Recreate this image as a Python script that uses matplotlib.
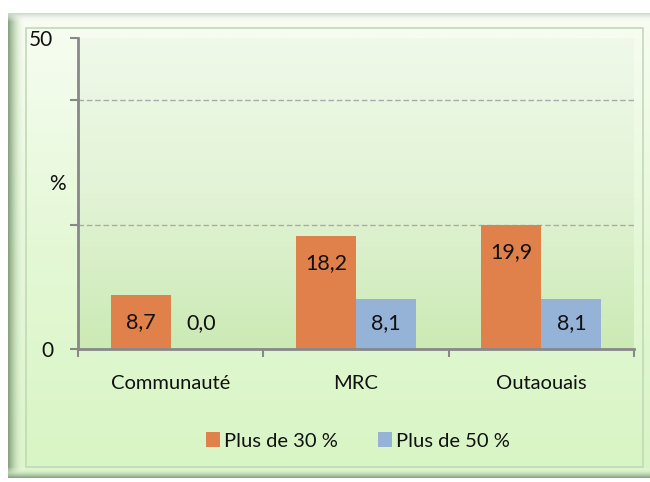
import numpy as np
import matplotlib
matplotlib.use("Agg")
import matplotlib.pyplot as plt
from matplotlib.colors import LinearSegmentedColormap
from matplotlib.patches import Rectangle

categories = ["Communauté", "MRC", "Outaouais"]
series_names = ["Plus de 30 %", "Plus de 50 %"]
plus30 = [8.7, 18.2, 19.9]
plus50 = [0.0, 8.1, 8.1]
value_labels30 = ["8,7", "18,2", "19,9"]
value_labels50 = ["0,0", "8,1", "8,1"]

ORANGE = "#E0804A"
BLUE = "#95B3D7"
FONT = ["Lato", "DejaVu Sans"]
plt.rcParams['font.family'] = FONT

W, H = 650, 482
fig = plt.figure(figsize=(W / 100, H / 100), dpi=100)
fig.patch.set_facecolor("white")

# ---- background panel ----
bg = fig.add_axes([0, 0, 1, 1], zorder=-10)
bg.set_xlim(0, W)
bg.set_ylim(H, 0)
bg.axis("off")

panel_cmap = LinearSegmentedColormap.from_list("panel", ["#F8FDF3", "#E4F8D6", "#D8F5C4"])
grad = np.linspace(0, 1, 256).reshape(-1, 1)
bg.imshow(grad, cmap=panel_cmap, extent=[8, W, 478, 13], aspect="auto", zorder=1)

# left bevel
bev_cmap = LinearSegmentedColormap.from_list("bev", [(0.52, 0.62, 0.49, 1.0), (0.80, 0.89, 0.75, 0.7), (1, 1, 1, 0.0)])
hgrad = np.linspace(0, 1, 64).reshape(1, -1)
bg.imshow(hgrad, cmap=bev_cmap, extent=[8, 26, 478, 13], aspect="auto", zorder=2)
# bottom bevel
vgrad = np.linspace(1, 0, 64).reshape(-1, 1)
bg.imshow(vgrad, cmap=bev_cmap, extent=[8, W, 478, 467], aspect="auto", zorder=2)
# top edge shading
bg.imshow(np.linspace(0, 1, 16).reshape(-1, 1),
          cmap=LinearSegmentedColormap.from_list("top", [(0.8, 0.85, 0.8, 1.0), (1, 1, 1, 0.0)]),
          extent=[8, W, 22, 13], aspect="auto", zorder=2)
bg.add_patch(Rectangle((26, 28), 617, 439, fill=False, edgecolor="#C3D9B8", lw=1.2, zorder=3))

# ---- main axes ----
x0, x1, ytop, ybot = 78, 634, 38, 349
ax = fig.add_axes([x0 / W, 1 - ybot / H, (x1 - x0) / W, (ybot - ytop) / H])
ax.set_facecolor("none")
plot_cmap = LinearSegmentedColormap.from_list("plot", ["#F0F9EA", "#E2F3D6", "#CBEAB4"])
ax.imshow(grad, cmap=plot_cmap, extent=[0, 1, 0, 1], transform=ax.transAxes,
          aspect="auto", zorder=0)

x = np.arange(len(categories))
bw = 0.324
b1 = ax.bar(x - bw / 2, plus30, bw, color=ORANGE, label=series_names[0], zorder=3)
b2 = ax.bar(x + bw / 2, plus50, bw, color=BLUE, label=series_names[1], zorder=3)

for xi, v, s in zip(x - bw / 2, plus30, value_labels30):
    ax.text(xi, max(v - 4.4, 4.1), s, ha="center", va="center", fontsize=15.5, color="#111111", zorder=4)
for xi, v, s in zip(x + bw / 2, plus50, value_labels50):
    ax.text(xi, max(v - 4.4, 4.1), s, ha="center", va="center", fontsize=15.5, color="#111111", zorder=4)

ax.set_xlim(-0.5, 2.5)
ax.set_ylim(0, 50)

for g in [20, 40]:
    ax.axhline(g, color="#AAAAAA", lw=1, ls=(0, (4, 2)), zorder=1)

ax.set_yticks([0, 20, 40, 50])
ax.set_yticklabels(["0", "", "", "50"])
ax.set_xticks([-0.5, 0.5, 1.5, 2.5], minor=False)
ax.set_xticklabels([])
ax.set_xticks(x, minor=True)
ax.set_xticklabels(categories, minor=True)

for sp in ["top", "right"]:
    ax.spines[sp].set_visible(False)
for sp in ["left", "bottom"]:
    ax.spines[sp].set_color("#888888")
    ax.spines[sp].set_linewidth(2)
    ax.spines[sp].set_zorder(5)

ax.tick_params(axis="y", which="major", length=6, width=1.5, color="#888888",
               labelsize=15, pad=12, labelcolor="#111111")
ax.tick_params(axis="x", which="major", length=6, width=1.5, color="#888888")
ax.tick_params(axis="x", which="minor", length=0, labelsize=14.5, pad=19, labelcolor="#111111")

pct = ax.text(-0.61, 26.5, "%", fontsize=15, ha="center", va="center", color="#111111")
pct.set_clip_on(False)

leg = fig.legend(handles=[b1, b2], labels=series_names, loc="center",
                 bbox_to_anchor=(358 / W, 1 - 441 / H), ncol=2, frameon=False,
                 fontsize=14.5, handlelength=0.7, handleheight=0.7, handletextpad=0.2,
                 columnspacing=2.0)
for t in leg.get_texts():
    t.set_color("#111111")

fig.savefig("out.png", dpi=100)
